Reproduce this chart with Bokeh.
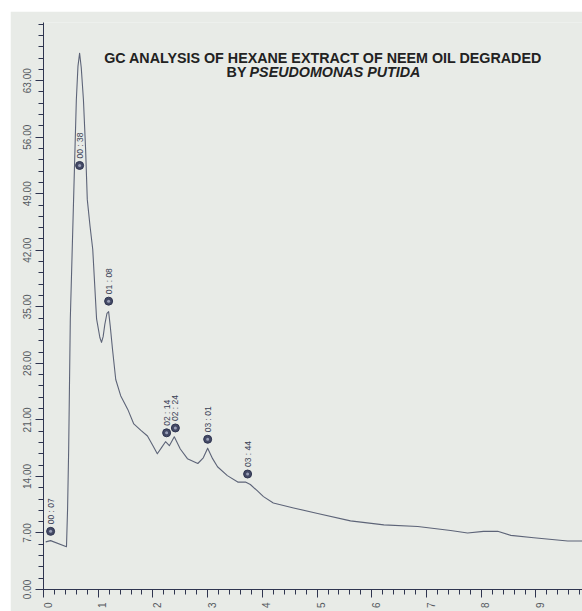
import math
from bokeh.plotting import figure
from bokeh.models import (Range1d, FixedTicker, Label, ColumnDataSource, LinearAxis,
                          CustomLabelingPolicy)
from bokeh.embed import file_html
from bokeh.resources import INLINE
from bokeh.core.properties import value

# ---- data (time in minutes, response) ----
trace_time = [0.04, 0.13, 0.42, 0.44, 0.46, 0.49, 0.55, 0.60, 0.63, 0.66, 0.69, 0.73,
              0.77, 0.80, 0.85, 0.90, 0.97, 1.03, 1.06, 1.09, 1.12, 1.16, 1.19, 1.22,
              1.26, 1.32, 1.41, 1.54, 1.65, 1.78, 1.90, 2.00, 2.08, 2.16, 2.23, 2.30,
              2.39, 2.50, 2.63, 2.82, 2.92, 3.00, 3.09, 3.18, 3.36, 3.55, 3.69, 3.78,
              3.91, 4.02, 4.20, 4.57, 5.01, 5.61, 6.22, 6.84, 7.44, 7.75, 8.04, 8.30,
              8.54, 8.96, 9.58, 9.85]
trace_signal = [5.9, 6.05, 5.3, 10.0, 17.4, 33.5, 48.3, 60.6, 64.8, 66.4, 64.6, 60.6,
                54.4, 48.3, 45.0, 42.1, 33.5, 31.2, 30.6, 31.3, 32.8, 34.2, 34.4, 32.6,
                29.8, 26.0, 24.0, 22.3, 20.5, 19.7, 19.0, 17.8, 16.8, 17.6, 18.3, 17.8,
                18.9, 17.4, 16.2, 15.6, 16.3, 17.5, 16.2, 15.2, 14.1, 13.3, 13.3, 13.0,
                12.2, 11.5, 10.7, 10.1, 9.4, 8.5, 8.0, 7.8, 7.3, 7.0, 7.2, 7.2,
                6.7, 6.4, 6.0, 6.0]

peak_time = [0.13, 0.66, 1.19, 2.25, 2.41, 3.00, 3.73]
peak_marker_level = [7.2, 52.5, 35.7, 19.4, 20.0, 18.6, 14.3]
peak_label = ["00 : 07", "00 : 38", "01 : 08", "02 : 14", "02 : 24", "03 : 01", "03 : 44"]

x_ticks = [0, 1, 2, 3, 4, 5, 6, 7, 8, 9]
x_tick_labels = ["0", "1", "2", "3", "4", "5", "6", "7", "8", "9"]
y_ticks = [0, 7, 14, 21, 28, 35, 42, 49, 56, 63]
y_tick_labels = ["0.00", "7.00", "14.00", "21.00", "28.00", "35.00", "42.00",
                 "49.00", "56.00", "63.00"]

title_line1 = "GC ANALYSIS OF HEXANE EXTRACT OF NEEM OIL DEGRADED"
title_by = "BY"
title_species = "PSEUDOMONAS PUTIDA"

BG = "#e8ebe7"
AXIS = "#2f3550"
TRACE = "#5d6478"
FONT = "Liberation Sans"
LBL = "#555a60"

PX_PER_MIN = 539 / 9.85
PX_PER_UNIT = 569 / 70.2

p = figure(width=572, height=600, output_backend="svg", toolbar_location=None,
           x_range=Range1d(0, 9.85), y_range=Range1d(0, 70.2),
           min_border_left=33, min_border_right=0, min_border_top=11, min_border_bottom=20)
p.styles = {"margin-left": "10px", "margin-top": "11px"}
p.background_fill_color = BG
p.border_fill_color = BG
p.outline_line_color = None
p.grid.visible = False

# main axes: line and ticks only (their own labels are suppressed)
hide_all = CustomLabelingPolicy(code="for (const i of indices) indices.unset(i); return indices")
p.xaxis.ticker = FixedTicker(ticks=x_ticks, minor_ticks=[i * 0.2 for i in range(50)])
p.yaxis.ticker = FixedTicker(ticks=y_ticks, minor_ticks=[i * 1.4 for i in range(51)])
for ax in (p.xaxis[0], p.yaxis[0]):
    ax.axis_line_color = AXIS
    ax.axis_line_width = 1
    ax.major_tick_line_color = AXIS
    ax.minor_tick_line_color = AXIS
    ax.major_tick_in = 0
    ax.minor_tick_in = 0
    ax.major_tick_out = 8
    ax.minor_tick_out = 5
    ax.major_label_policy = hide_all
    ax.major_label_text_font_size = "1px"
    ax.major_label_standoff = 0

# label axes: tick labels sit beside their ticks as on the recorder print-out
def label_width(s):
    return sum(2.78 if c == "." else 5.56 for c in s)  # px at 10px font

y_label_pos = [round(t + label_width(s) / 2 / PX_PER_UNIT, 4) for t, s in zip(y_ticks, y_tick_labels)]
x_label_pos = [round(t + 4 / PX_PER_MIN, 4) for t in x_ticks]

def label_axis(ticks, labels, standoff):
    a = LinearAxis(ticker=FixedTicker(ticks=ticks, minor_ticks=[]),
                   major_label_overrides={k: v for k, v in zip(ticks, labels)})
    a.axis_line_color = None
    a.major_tick_line_color = None
    a.minor_tick_line_color = None
    a.major_tick_out = 0
    a.major_tick_in = 0
    a.minor_tick_out = 0
    a.minor_tick_in = 0
    a.major_label_standoff = standoff
    a.major_label_orientation = math.pi / 2
    a.major_label_text_font = FONT
    a.major_label_text_font_size = "10px"
    a.major_label_text_color = LBL
    return a

p.add_layout(label_axis(y_label_pos, y_tick_labels, 4), "left")
p.add_layout(label_axis(x_label_pos, x_tick_labels, 1), "below")

src = ColumnDataSource(dict(t=trace_time, s=trace_signal))
p.line("t", "s", source=src, line_color=TRACE, line_width=1.1, line_join="round")

pk = ColumnDataSource(dict(t=peak_time, s=peak_marker_level, lab=peak_label))
p.scatter("t", "s", source=pk, size=8, fill_color="#444a66", line_color="#2f3550")
p.scatter("t", "s", source=pk, size=3, fill_color="#9aa0b8", line_color=None)
p.text("t", "s", text="lab", source=pk, angle=math.pi / 2, y_offset=-7,
       text_align="left", text_baseline="middle", text_font=value(FONT),
       text_font_size="8.5px", text_color="#3a3f55")

# title
p.add_layout(Label(x=5.11, y=65.8, text=title_line1, text_align="center",
                   text_baseline="middle", text_font=FONT, text_font_size="14.3px",
                   text_font_style="bold", text_color="#222222"))
p.add_layout(Label(x=(226 - 43) / 54.7, y=64.05, text=title_by, text_align="left",
                   text_baseline="middle", text_font=FONT, text_font_size="14.3px",
                   text_font_style="bold", text_color="#222222"))
p.add_layout(Label(x=(249 - 43) / 54.7, y=64.05, text=title_species, text_align="left",
                   text_baseline="middle", text_font=FONT, text_font_size="14.3px",
                   text_font_style="bold italic", text_color="#222222"))

open("out.html", "w").write(file_html(p, INLINE))
